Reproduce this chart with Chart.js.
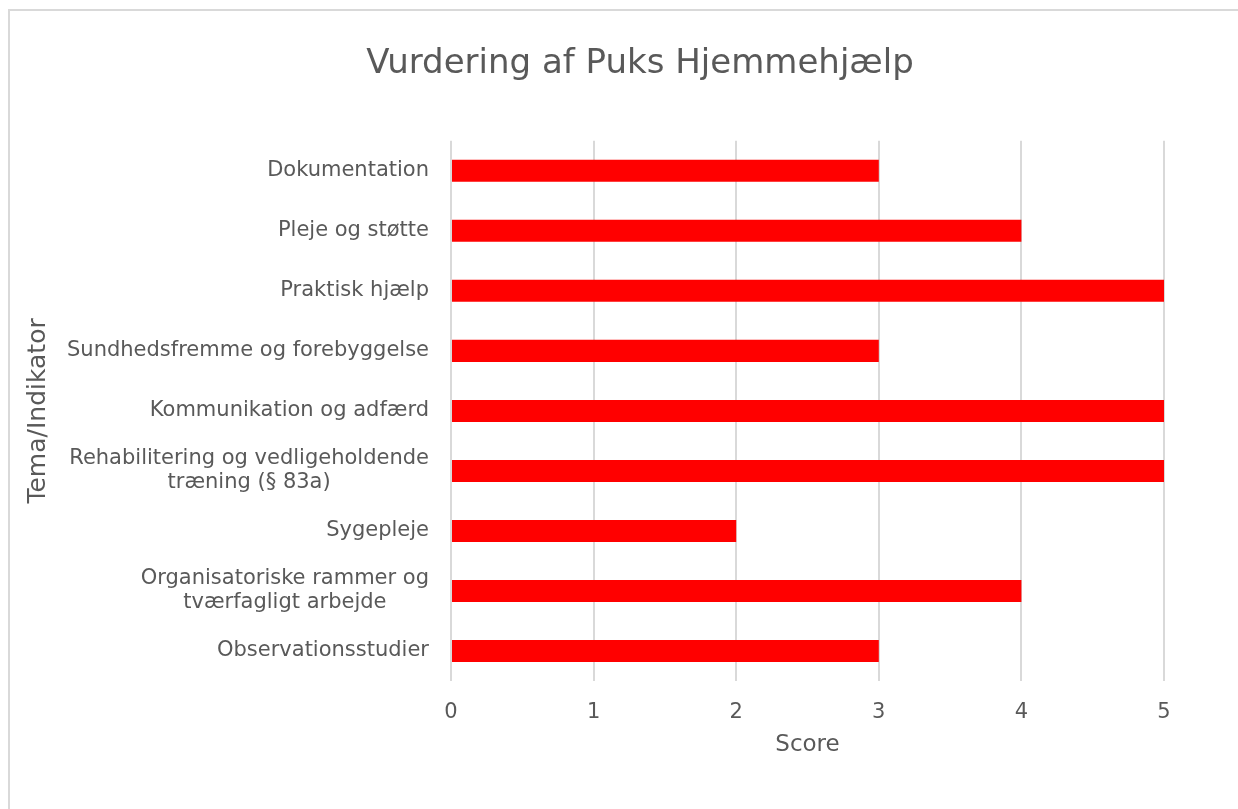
<!DOCTYPE html>
<html>
<head>
<meta charset="utf-8">
<script src="https://cdn.jsdelivr.net/npm/chart.js@4/dist/chart.umd.min.js"></script>
<style>
    html, body { margin: 0; padding: 0; background: #fff; overflow: hidden; }
    #frame { position: absolute; left: 8px; top: 9px; width: 1400px; height: 900px; border-left: 2px solid #d9d9d9; border-top: 2px solid #d9d9d9; }
    #wrap { position: absolute; left: 0; top: 0; width: 1280px; height: 809px; }
</style>
</head>
<body>
<div id="frame"></div>
<div id="wrap"><canvas id="graph"></canvas></div>
<script>
const categories = [
    "Dokumentation",
    "Pleje og støtte",
    "Praktisk hjælp",
    "Sundhedsfremme og forebyggelse",
    "Kommunikation og adfærd",
    ["Rehabilitering og vedligeholdende", "træning (§ 83a)"],
    "Sygepleje",
    ["Organisatoriske rammer og", "tværfagligt arbejde"],
    "Observationsstudier"
];
const scores = [3, 4, 5, 3, 5, 5, 2, 4, 3];
const scoreTicks = [0, 1, 2, 3, 4, 5];

const textColor = "#595959";
const fontFamily = "'DejaVu Sans', sans-serif";

// draws the category labels, multi-line ones centered on themselves but right aligned as a block
const categoryLabels = {
    id: "categoryLabels",
    afterDraw: (chart) => {
        const ctx = chart.ctx;
        const yScale = chart.scales.y;
        const right = chart.chartArea.left - 22;
        const lineHeight = 24;
        ctx.save();
        ctx.font = "21px " + fontFamily;
        ctx.fillStyle = textColor;
        ctx.textAlign = "center";
        ctx.textBaseline = "middle";
        categories.forEach((label, i) => {
            const lines = Array.isArray(label) ? label : [label];
            const blockWidth = Math.max(...lines.map(l => ctx.measureText(l).width));
            const cx = right - blockWidth / 2;
            const cy = yScale.getPixelForValue(i);
            lines.forEach((line, j) => {
                ctx.fillText(line, cx, cy + (j - (lines.length - 1) / 2) * lineHeight);
            });
        });
        ctx.restore();
    }
};

const chart = new Chart(document.getElementById("graph"), {
    type: "bar",
    data: {
        labels: categories,
        datasets: [{
            data: scores,
            backgroundColor: "#ff0000",
            borderWidth: 0,
            categoryPercentage: 1,
            barPercentage: 0.367
        }]
    },
    options: {
        indexAxis: "y",
        responsive: true,
        maintainAspectRatio: false,
        animation: false,
        layout: { padding: { left: 0, right: 0, top: 0, bottom: 50 } },
        plugins: {
            legend: { display: false },
            tooltip: { enabled: false },
            title: {
                display: true,
                text: "Vurdering af Puks Hjemmehjælp",
                color: textColor,
                font: { family: fontFamily, size: 34, weight: "normal" },
                padding: { top: 44, bottom: 56 }
            }
        },
        scales: {
            x: {
                min: 0,
                max: 5,
                afterBuildTicks: (scale) => {
                    scale.ticks = scoreTicks.map(v => ({ value: v }));
                },
                afterFit: (scale) => {
                    scale.paddingRight = 116; // leaves room like the original plot area
                    scale.height = 78;
                },
                grid: { color: "#d9d9d9", lineWidth: 2, drawTicks: false },
                border: { display: false },
                ticks: {
                    color: textColor,
                    padding: 19,
                    font: { family: fontFamily, size: 21 }
                },
                title: {
                    display: true,
                    text: "Score",
                    color: textColor,
                    font: { family: fontFamily, size: 23 },
                    padding: { top: 8, bottom: 0 }
                }
            },
            y: {
                afterFit: (scale) => {
                    scale.width = 451;
                },
                grid: { display: false },
                border: { display: false },
                ticks: { display: false },
                title: {
                    display: true,
                    text: "Tema/Indikator",
                    color: textColor,
                    font: { family: fontFamily, size: 25 },
                    padding: { top: 23, bottom: 0 }
                }
            }
        }
    },
    plugins: [categoryLabels]
});
</script>
</body>
</html>
